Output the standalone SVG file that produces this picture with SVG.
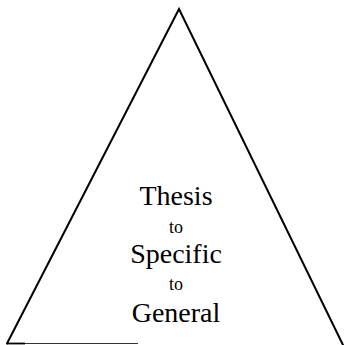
<svg xmlns="http://www.w3.org/2000/svg" width="344" height="345" viewBox="0 0 344 345">
<style>
.side{stroke:#000;stroke-width:2;fill:none;stroke-linecap:round;stroke-linejoin:miter}
.base{stroke:#333;stroke-width:1.2;fill:none}
text{font-family:"Liberation Serif","Times New Roman","DejaVu Serif",serif;fill:#000;text-anchor:middle}
.big{font-size:28px}
.small{font-size:18px}
</style>
<rect width="344" height="345" fill="#fff"/>
<g id="triangle">
<polyline class="side" points="7,343.5 179,9 343,345"/>
<line class="base" x1="7" y1="343.5" x2="138" y2="343.5"/>
<line x1="7" y1="343.5" x2="25" y2="343.5" stroke="#000" stroke-width="1.8"/>
</g>
<g id="labels">
<text class="big" x="176" y="205">Thesis</text>
<text class="small" x="176" y="233">to</text>
<text class="big" x="176" y="263">Specific</text>
<text class="small" x="176" y="290">to</text>
<text class="big" x="176" y="322">General</text>
</g>
</svg>
